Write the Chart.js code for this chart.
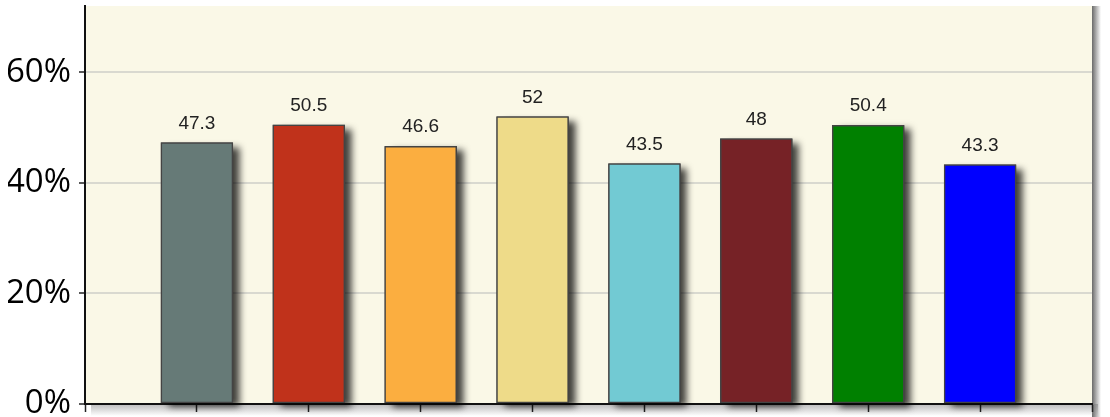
<!DOCTYPE html>
<html>
<head>
<meta charset="utf-8">
<script src="https://cdn.jsdelivr.net/npm/chart.js@4.4.1/dist/chart.umd.min.js"></script>
<style>
  html, body { margin: 0; padding: 0; background: #fff; overflow: hidden; }
  #wrap { width: 1110px; height: 417px; }
</style>
</head>
<body>
<div id="wrap"><canvas id="myChart"></canvas></div>
<script>
var categories = ['A', 'B', 'C', 'D', 'E', 'F', 'G', 'H'];
var values = [47.3, 50.5, 46.6, 52, 43.5, 48, 50.4, 43.3];
var barColors = ['#667a77', '#c0321b', '#fbae40', '#eedb89', '#72cad3', '#762226', '#008000', '#0000ff'];
var yTicks = [0, 20, 40, 60];

// blank slot at each end so bars sit on the ticks like the original
var labels = [''].concat(categories, ['']);
var data = [null].concat(values, [null]);
var colors = ['#fff'].concat(barColors, ['#fff']);

var plotBg = {
    id: 'plotBg',
    beforeDraw: function (chart) {
        var c = chart.ctx, a = chart.chartArea;
        c.save();
        c.fillStyle = '#faf8e7';
        c.fillRect(a.left, a.top, a.right - a.left, a.bottom - a.top);
        var g = c.createLinearGradient(a.right, 0, a.right + 9, 0);
        g.addColorStop(0, 'rgba(90,90,90,0.9)');
        g.addColorStop(1, 'rgba(90,90,90,0)');
        c.fillStyle = g;
        c.fillRect(a.right, a.top, 9, a.bottom - a.top + 14);
        var g2 = c.createLinearGradient(0, a.bottom, 0, a.bottom + 12);
        g2.addColorStop(0, 'rgba(120,120,120,0.5)');
        g2.addColorStop(1, 'rgba(120,120,120,0)');
        c.fillStyle = g2;
        c.fillRect(a.left + 6, a.bottom, a.right - a.left, 12);
        c.restore();
    }
};

var barShadow = {
    id: 'barShadow',
    beforeDatasetsDraw: function (chart) {
        var c = chart.ctx;
        c.save();
        c.shadowColor = 'rgba(0,0,0,0.75)';
        c.shadowOffsetX = 7;
        c.shadowOffsetY = 4;
        c.shadowBlur = 7;
        c.fillStyle = '#444';
        chart.getDatasetMeta(0).data.forEach(function (bar, i) {
            if (data[i] === null) return;
            var w = bar.width;
            c.fillRect(bar.x - w / 2, bar.y, w, bar.base - bar.y);
        });
        c.restore();
    },
    afterDatasetsDraw: function (chart) {
        var c = chart.ctx;
        c.save();
        c.font = '19px "Liberation Sans", Arial, sans-serif';
        c.fillStyle = '#222';
        c.textAlign = 'center';
        c.textBaseline = 'alphabetic';
        chart.getDatasetMeta(0).data.forEach(function (bar, i) {
            if (data[i] === null) return;
            c.fillText(String(data[i]), bar.x, bar.y - 14);
        });
        c.restore();
    }
};

var ctx = document.getElementById('myChart').getContext('2d');
var myChart = new Chart(ctx, {
    type: 'bar',
    data: {
        labels: labels,
        datasets: [{
            data: data,
            backgroundColor: colors,
            borderColor: '#444',
            borderWidth: 1.5,
            borderSkipped: false,
            barThickness: 72,
            clip: false
        }]
    },
    options: {
        responsive: true,
        maintainAspectRatio: false,
        animation: false,
        layout: { padding: { left: 8, top: 6, right: 18, bottom: 5 } },
        plugins: { legend: { display: false }, tooltip: { enabled: false } },
        scales: {
            x: {
                offset: false,
                z: 1,
                grid: { offset: false, drawOnChartArea: false, tickLength: 8, tickColor: '#222', tickWidth: 1.5 },
                border: { color: '#111', width: 2 },
                ticks: { display: false, autoSkip: false }
            },
            y: {
                min: 0,
                max: 72,
                afterBuildTicks: function (scale) {
                    scale.ticks = yTicks.map(function (v) { return { value: v }; });
                },
                afterFit: function (scale) {
                    scale.width = 77;
                    scale.paddingTop = 0;
                    scale.paddingBottom = 0;
                },
                grid: { color: '#d9d9d0', lineWidth: 2, tickLength: 6, tickColor: '#222', tickWidth: 1.5 },
                border: { color: '#111', width: 2 },
                ticks: {
                    padding: 8,
                    color: '#000',
                    font: { family: '"Open Sans", sans-serif', size: 33 },
                    callback: function (v) { return v + '%'; }
                }
            }
        }
    },
    plugins: [plotBg, barShadow]
});
</script>
</body>
</html>
